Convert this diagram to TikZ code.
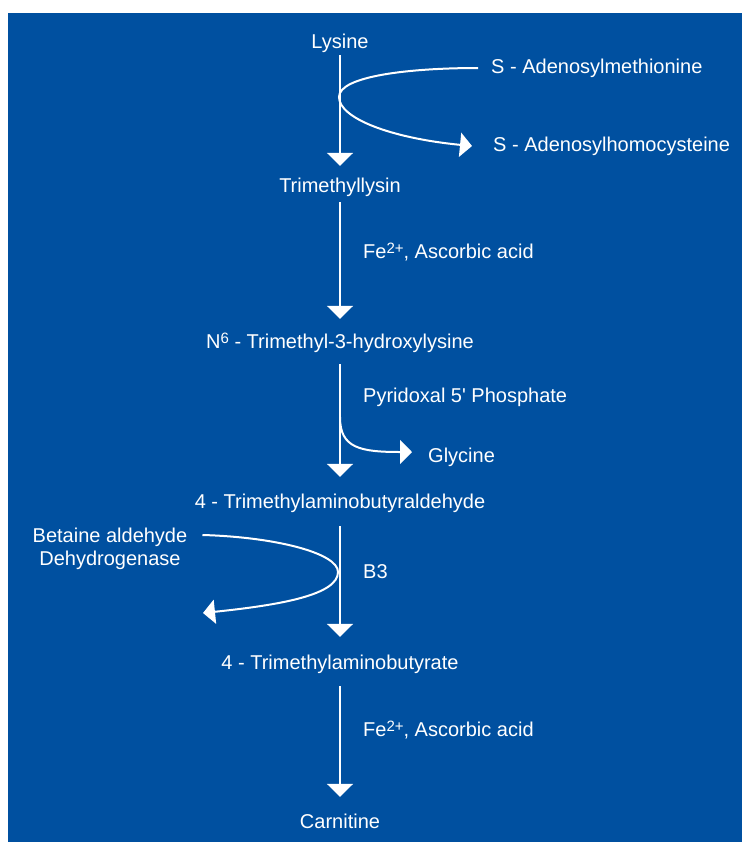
\documentclass[tikz,border=0pt]{standalone}
\usepackage{fontspec}
\setmainfont{Liberation Sans}
\usetikzlibrary{arrows.meta}
\definecolor{bgblue}{RGB}{0,80,160}
\newcommand{\supup}[1]{\raisebox{4.5pt}{\fontsize{15}{15}\selectfont #1}}
\begin{document}
\begin{tikzpicture}[x=1pt,y=-1pt,
  lbl/.style={text=white, font=\fontsize{20}{24}\selectfont, inner sep=0pt, text height=14pt, text depth=4pt, anchor=base},
  llbl/.style={lbl, anchor=base west},
  mainarr/.style={white, line width=2pt, -{Triangle[width=26pt,length=13pt]}},
  sidearr/.style={white, line width=2pt, -{Triangle[width=24pt,length=12pt]}}]
\useasboundingbox (0,0) rectangle (742,844);
\fill[bgblue] (8,13) rectangle (742,842);

\node[lbl] (lys) at (340,48) {Lysine};
\node[lbl] (tml) at (340,192) {Trimethyllysin};
\node[lbl] (hyd) at (340,348) {N\supup{6} - Trimethyl-3-hydroxylysine};
\node[lbl] (tmaba) at (340,508) {4 - Trimethylaminobutyraldehyde};
\node[lbl] (tmab) at (340,669) {4 - Trimethylaminobutyrate};
\node[lbl] (car) at (340,828) {Carnitine};
\node[llbl] (sam) at (491,73) {S - Adenosylmethionine};
\node[llbl] (sah) at (493,151) {S - Adenosylhomocysteine};
\node[llbl] (fe1) at (363,258) {Fe\supup{2+}, Ascorbic acid};
\node[llbl] (plp) at (363,402) {Pyridoxal 5\textquotesingle{} Phosphate};
\node[llbl] (gly) at (428,462) {Glycine};
\node[lbl] (bet1) at (110,542) {Betaine aldehyde};
\node[lbl] (bet2) at (110,565) {Dehydrogenase};
\node[llbl] (b3) at (363,578) {B3};
\node[llbl] (fe2) at (363,736) {Fe\supup{2+}, Ascorbic acid};

\draw[mainarr] ([yshift=-3pt]lys.south) -- ([yshift=12pt]tml.north);
\draw[mainarr] ([yshift=-6pt]tml.south) -- ([yshift=15pt]hyd.north);
\draw[mainarr] ([yshift=-12pt]hyd.south) -- ([yshift=17pt]tmaba.north);
\draw[mainarr] ([yshift=-14pt]tmaba.south) -- ([yshift=18pt]tmab.north);
\draw[mainarr] ([yshift=-13pt]tmab.south) -- ([yshift=17pt]car.north);

\draw[sidearr] ([xshift=-13pt]sam.west) .. controls (410,68) and (339,76) .. (339,97)
  .. controls (339,118) and (390,138) .. ([xshift=-21pt]sah.west);
\draw[sidearr] ([yshift=-65pt]hyd.south) .. controls (340,448) and (360,452) .. ([xshift=-16pt,yshift=5pt]gly.west);
\coordinate (betend) at (203,613);
\draw[sidearr] ([xshift=15pt,yshift=2pt]bet1.east) .. controls (275,537) and (338,553) .. (338,572)
  .. controls (338,595) and (280,605) .. (betend);
\end{tikzpicture}
\end{document}
